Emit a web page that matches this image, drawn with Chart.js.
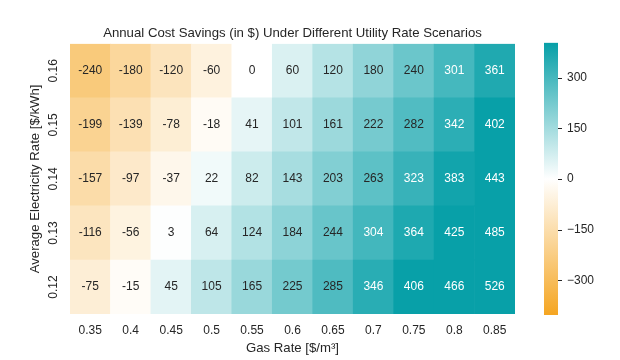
<!DOCTYPE html>
<html><head><meta charset="utf-8">
<script src="https://cdn.jsdelivr.net/npm/chart.js@4/dist/chart.umd.min.js"></script>
<style>html,body{margin:0;padding:0;background:#fff}</style>
</head><body>
<canvas id="c" width="620" height="360"></canvas>
<script>
// ---- data ----
const gasRates = ['0.35','0.4','0.45','0.5','0.55','0.6','0.65','0.7','0.75','0.8','0.85'];
const elecRates = ['0.12','0.13','0.14','0.15','0.16'];
const savings012 = [-75, -15, 45, 105, 165, 225, 285, 346, 406, 466, 526];
const savings013 = [-116, -56, 3, 64, 124, 184, 244, 304, 364, 425, 485];
const savings014 = [-157, -97, -37, 22, 82, 143, 203, 263, 323, 383, 443];
const savings015 = [-199, -139, -78, -18, 41, 101, 161, 222, 282, 342, 402];
const savings016 = [-240, -180, -120, -60, 0, 60, 120, 180, 240, 301, 361];
const savingsRows = [savings012, savings013, savings014, savings015, savings016];
const colorbarTicks = [-300, -150, 0, 150, 300];
const colorMin = -400, colorMax = 400;

// ---- styling ----
const FONT = 'Liberation Sans, Arial, sans-serif';
const TXT = '#262626';
const ORANGE = [245, 166, 35], TEAL = [8, 160, 168];

function rgbFor(v) {
  let t = v >= 0 ? v / colorMax : v / colorMin;
  t = Math.max(0, Math.min(1, t));
  const end = v >= 0 ? TEAL : ORANGE;
  return end.map(c => Math.round(255 + (c - 255) * t));
}
function colorFor(v) { const c = rgbFor(v); return `rgb(${c[0]},${c[1]},${c[2]})`; }
function lum(c) {
  const l = c.map(x => { x /= 255; return x <= 0.03928 ? x / 12.92 : Math.pow((x + 0.055) / 1.055, 2.4); });
  return 0.2126 * l[0] + 0.7152 * l[1] + 0.0722 * l[2];
}

const datasets = savingsRows.map((vals, r) => ({
  label: elecRates[r],
  data: vals.map(() => [r - 0.5, r + 0.5]),
  values: vals,
  backgroundColor: vals.map(colorFor),
  borderWidth: 0,
  barPercentage: 1,
  categoryPercentage: 1,
  grouped: false
}));

const annotatePlugin = {
  id: 'annotate',
  afterDatasetsDraw(chart) {
    const ctx = chart.ctx;
    ctx.save();
    ctx.font = `12px ${FONT}`;
    ctx.textAlign = 'center';
    ctx.textBaseline = 'middle';
    chart.data.datasets.forEach((ds, di) => {
      const meta = chart.getDatasetMeta(di);
      meta.data.forEach((el, i) => {
        const v = ds.values[i];
        ctx.fillStyle = lum(rgbFor(v)) > 0.408 ? TXT : '#ffffff';
        ctx.fillText(String(v), el.x, (el.y + el.base) / 2);
      });
    });
    ctx.restore();
  }
};

const colorbarPlugin = {
  id: 'colorbar',
  afterDraw(chart) {
    const s = chart.scales.cbar;
    const ctx = chart.ctx;
    const x0 = s.left + 29, w = 14;
    const top = s.getPixelForValue(colorMax), bot = s.getPixelForValue(colorMin);
    const g = ctx.createLinearGradient(0, top, 0, bot);
    g.addColorStop(0, colorFor(colorMax));
    g.addColorStop(0.5, colorFor(0));
    g.addColorStop(1, colorFor(colorMin));
    ctx.save();
    ctx.fillStyle = g;
    ctx.fillRect(x0, top - 1, w, bot - top + 2);
    ctx.strokeStyle = TXT;
    ctx.lineWidth = 1;
    colorbarTicks.forEach(v => {
      const y = Math.round(s.getPixelForValue(v)) + 0.5;
      ctx.beginPath();
      ctx.moveTo(x0 + w, y);
      ctx.lineTo(x0 + w + 4, y);
      ctx.stroke();
    });
    ctx.restore();
  }
};

function noPadV(s) { s.paddingTop = 0; s.paddingBottom = 0; }

Chart.defaults.font.family = FONT;
Chart.defaults.color = TXT;

new Chart(document.getElementById('c'), {
  type: 'bar',
  data: { labels: gasRates, datasets },
  options: {
    responsive: false,
    devicePixelRatio: 1,
    animation: false,
    layout: { padding: 0 },
    plugins: {
      legend: { display: false },
      tooltip: { enabled: false },
      title: {
        display: true,
        text: 'Annual Cost Savings (in $) Under Different Utility Rate Scenarios',
        fullSize: false,
        color: TXT,
        font: { family: FONT, size: 13.2, weight: 'normal' },
        padding: { top: 25, bottom: 3 }
      }
    },
    scales: {
      x: {
        type: 'category',
        offset: true,
        grid: { display: false, drawTicks: false },
        border: { display: false },
        ticks: { padding: 9, maxRotation: 0, autoSkip: false, color: TXT, font: { size: 12 } },
        title: { display: true, text: 'Gas Rate [$/m\u00B3]', color: TXT, font: { size: 13.2 }, padding: { top: 0, bottom: 4 } },
        afterFit: s => { s.height = 46; s.paddingLeft = 0; s.paddingRight = 0; }
      },
      y: {
        type: 'linear',
        position: 'left',
        min: -0.5, max: 4.5,
        afterBuildTicks: s => { s.ticks = elecRates.map((_, i) => ({ value: i })); },
        grid: { display: false, drawTicks: false },
        border: { display: false },
        ticks: { minRotation: 90, maxRotation: 90, crossAlign: 'center', padding: 4.5, color: TXT, font: { size: 12 },
                 callback: v => elecRates[v] },
        title: { display: true, text: 'Average Electricity Rate [$/kWh]', color: TXT, font: { size: 13.2 }, padding: { top: 27, bottom: 0 } },
        afterFit: s => { s.width = 70; noPadV(s); }
      },
      cbar: {
        axis: 'y',
        type: 'linear',
        position: 'right',
        min: colorMin, max: colorMax,
        afterBuildTicks: s => { s.ticks = colorbarTicks.map(v => ({ value: v })); },
        grid: { display: false, drawTicks: false },
        border: { display: false },
        ticks: { padding: 52, color: TXT, font: { size: 12 }, callback: v => String(v).replace('-', '\u2212') },
        afterFit: s => { s.width = 105; noPadV(s); }
      }
    }
  },
  plugins: [annotatePlugin, colorbarPlugin]
});
</script>
</body></html>
